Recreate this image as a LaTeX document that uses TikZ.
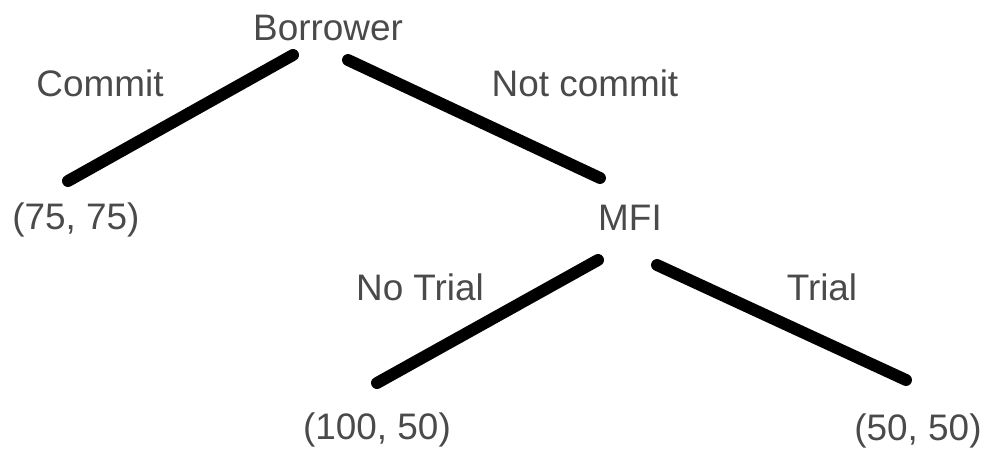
\documentclass[tikz,border=0pt]{standalone}
\usepackage{fontspec}
\setmainfont{Liberation Sans}
\definecolor{labelgray}{HTML}{4A4A4A}
\begin{document}
\begin{tikzpicture}[x=0.02cm, y=-0.02cm, every node/.style={text=labelgray,font=\fontsize{21}{25}\selectfont,inner sep=0pt},
  branch/.style={line width=6.8pt, line cap=round, black}]
            \useasboundingbox (0,0) rectangle (997,459);
            \node (borrower) at (328,28) {Borrower};
            \node (mfi) at (630,218) {MFI};
            \node (payA) at (76,220) {(75, 75)};
            \node (payB) at (377,430) {(100, 50)};
            \node (payC) at (918,431) {(50, 50)};
            \node (commit) at (100,83) {Commit};
            \node (notcommit) at (585,83) {Not commit};
            \node (notrial) at (420,287) {No Trial};
            \node (trial) at (822,287) {Trial};
            \coordinate (b1) at (293,55);
            \coordinate (b2) at (348,60);
            \coordinate (m0) at (600,178);
            \coordinate (m1) at (598,260);
            \coordinate (m2) at (657,265);
            \coordinate (a0) at (68,181);
            \coordinate (c0) at (377,383);
            \coordinate (d0) at (906,380);
            \draw[branch] (b1) -- (a0);
            \draw[branch] (b2) -- (m0);
            \draw[branch] (m1) -- (c0);
            \draw[branch] (m2) -- (d0);
        \end{tikzpicture}
\end{document}
